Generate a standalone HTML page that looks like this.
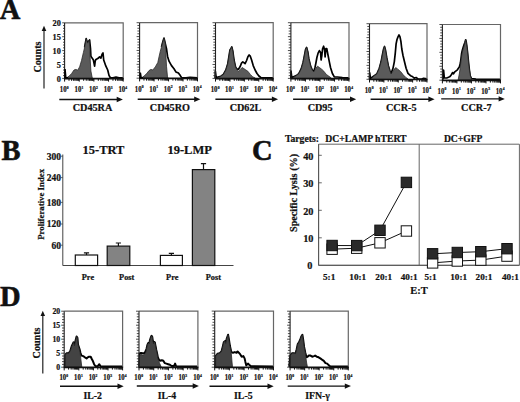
<!DOCTYPE html><html><head><meta charset="utf-8"><style>html,body{margin:0;padding:0;background:#fff;}svg{display:block;}</style></head><body>
<svg width="520" height="402" viewBox="0 0 520 402" font-family='"Liberation Serif", serif' font-weight="bold" fill="#111">
<style>text{stroke:#111;stroke-width:0.22px;}</style>
<rect width="520" height="402" fill="#fff"/>
<text x="-0.3" y="18.8" font-size="28.5" text-anchor="start" style="stroke-width:0.6px">A</text>
<text x="1.4" y="159.7" font-size="28.5" text-anchor="start" style="stroke-width:0.6px">B</text>
<text x="252.1" y="159.7" font-size="28.5" text-anchor="start" style="stroke-width:0.6px">C</text>
<text x="-0.1" y="306.3" font-size="28.5" text-anchor="start" style="stroke-width:0.6px">D</text>
<polyline points="84.6,47.5 84.6,47.5 86.2,38.7 87.5,43.1 89.6,40.0 90.5,48.7 90.9,56.2 92.1,58.1 93.4,60.0 94.0,63.1 94.6,66.2 95.2,61.2 95.9,59.4 97.8,58.5 99.6,56.9 100.9,58.1 102.1,54.3 103.0,53.0 103.7,60.0 105.9,66.2 107.7,70.0 109.0,75.4 110.2,77.5 113.0,77.8 116.0,77.2 119.0,77.8 123.0,77.8" fill="none" stroke="#000" stroke-width="1.7" stroke-linejoin="round"/>
<polygon points="66.5,78.4 66.5,78.0 69.0,76.2 71.5,73.7 74.0,70.0 75.9,69.4 77.7,70.2 79.6,66.9 81.5,60.6 83.4,52.5 84.6,47.5 86.2,38.7 87.5,43.1 89.2,40.5 89.9,50.0 90.3,61.0 90.9,71.0 92.1,77.2 92.5,78.0 92.5,78.4" fill="#5a5a5a" stroke="#2a2a2a" stroke-width="0.8" stroke-linejoin="round"/>
<path d="M64.6,22.8H123.2V78.4" fill="none" stroke="#666" stroke-width="1.2"/>
<path d="M64.6,22.8V78.4" fill="none" stroke="#222" stroke-width="1.1"/>
<path d="M64.1,78.60000000000001H123.7" fill="none" stroke="#111" stroke-width="1.7"/>
<path d="M62.2,78.40H64.6M63.0,75.62H64.6M63.0,72.84H64.6M63.0,70.06H64.6M63.0,67.28H64.6M62.2,64.50H64.6M63.0,61.72H64.6M63.0,58.94H64.6M63.0,56.16H64.6M63.0,53.38H64.6M62.2,50.60H64.6M63.0,47.82H64.6M63.0,45.04H64.6M63.0,42.26H64.6M63.0,39.48H64.6M62.2,36.70H64.6M63.0,33.92H64.6M63.0,31.14H64.6M63.0,28.36H64.6M63.0,25.58H64.6M62.2,22.80H64.6" stroke="#222" stroke-width="0.8"/>
<path d="M64.60,78.4V81.60000000000001M69.01,78.4V80.80000000000001M71.59,78.4V80.80000000000001M73.42,78.4V80.80000000000001M74.84,78.4V80.80000000000001M76.00,78.4V80.80000000000001M76.98,78.4V80.80000000000001M77.83,78.4V80.80000000000001M78.58,78.4V80.80000000000001M79.25,78.4V81.60000000000001M83.66,78.4V80.80000000000001M86.24,78.4V80.80000000000001M88.07,78.4V80.80000000000001M89.49,78.4V80.80000000000001M90.65,78.4V80.80000000000001M91.63,78.4V80.80000000000001M92.48,78.4V80.80000000000001M93.23,78.4V80.80000000000001M93.90,78.4V81.60000000000001M98.31,78.4V80.80000000000001M100.89,78.4V80.80000000000001M102.72,78.4V80.80000000000001M104.14,78.4V80.80000000000001M105.30,78.4V80.80000000000001M106.28,78.4V80.80000000000001M107.13,78.4V80.80000000000001M107.88,78.4V80.80000000000001M108.55,78.4V81.60000000000001M112.96,78.4V80.80000000000001M115.54,78.4V80.80000000000001M117.37,78.4V80.80000000000001M118.79,78.4V80.80000000000001M119.95,78.4V80.80000000000001M120.93,78.4V80.80000000000001M121.78,78.4V80.80000000000001M122.53,78.4V80.80000000000001M123.2,78.4V81.60000000000001" stroke="#111" stroke-width="1.0"/>
<text x="60.8" y="81.7" font-size="8.3" text-anchor="end">0</text>
<text x="60.8" y="67.8" font-size="8.3" text-anchor="end">5</text>
<text x="60.8" y="53.9" font-size="8.3" text-anchor="end">10</text>
<text x="60.8" y="40.0" font-size="8.3" text-anchor="end">15</text>
<text x="60.8" y="26.1" font-size="8.3" text-anchor="end">20</text>
<text transform="translate(59.8,91.7) scale(0.86,1)" font-size="7.9">10<tspan font-size="4.3" dy="-3.2" dx="0.2">0</tspan></text>
<text transform="translate(74.5,91.7) scale(0.86,1)" font-size="7.9">10<tspan font-size="4.3" dy="-3.2" dx="0.2">1</tspan></text>
<text transform="translate(89.1,91.7) scale(0.86,1)" font-size="7.9">10<tspan font-size="4.3" dy="-3.2" dx="0.2">2</tspan></text>
<text transform="translate(103.8,91.7) scale(0.86,1)" font-size="7.9">10<tspan font-size="4.3" dy="-3.2" dx="0.2">3</tspan></text>
<text transform="translate(118.4,91.7) scale(0.86,1)" font-size="7.9">10<tspan font-size="4.3" dy="-3.2" dx="0.2">4</tspan></text>
<path d="M59.3,99.5H117.7" stroke="#111" stroke-width="1.4"/>
<path d="M116.7,96.8L122.9,99.5L116.7,102.2Z" fill="#111"/>
<text x="92.5" y="110.5" font-size="10.2" text-anchor="middle">CD45RA</text>
<polyline points="161.5,46.9 161.5,46.9 162.8,41.9 164.0,38.1 165.3,43.7 166.5,48.7 167.5,56.2 169.0,61.2 171.5,65.6 174.0,68.7 175.9,71.9 178.4,73.1 180.3,75.6 181.5,77.5 186.0,77.8 190.0,77.3 197.3,77.8" fill="none" stroke="#000" stroke-width="1.7" stroke-linejoin="round"/>
<polygon points="141.5,78.2 141.5,78.0 144.6,75.6 147.1,73.1 149.0,70.6 150.9,69.4 152.8,70.0 155.3,66.9 157.8,62.5 159.0,56.9 160.3,51.2 161.5,46.9 162.8,41.9 164.0,38.1 165.3,43.7 165.9,55.0 166.5,66.2 167.5,76.9 168.0,78.0 168.0,78.2" fill="#5a5a5a" stroke="#2a2a2a" stroke-width="0.8" stroke-linejoin="round"/>
<path d="M139.6,22.7H197.5V78.2" fill="none" stroke="#666" stroke-width="1.2"/>
<path d="M139.6,22.7V78.2" fill="none" stroke="#222" stroke-width="1.1"/>
<path d="M139.1,78.4H198.0" fill="none" stroke="#111" stroke-width="1.7"/>
<path d="M136.6,78.20H139.6M137.4,75.42H139.6M137.4,72.65H139.6M137.4,69.88H139.6M137.4,67.10H139.6M136.6,64.33H139.6M137.4,61.55H139.6M137.4,58.78H139.6M137.4,56.00H139.6M137.4,53.23H139.6M136.6,50.45H139.6M137.4,47.68H139.6M137.4,44.90H139.6M137.4,42.12H139.6M137.4,39.35H139.6M136.6,36.58H139.6M137.4,33.80H139.6M137.4,31.03H139.6M137.4,28.25H139.6M137.4,25.48H139.6M136.6,22.70H139.6" stroke="#222" stroke-width="0.8"/>
<path d="M139.60,78.2V81.4M143.96,78.2V80.60000000000001M146.51,78.2V80.60000000000001M148.31,78.2V80.60000000000001M149.72,78.2V80.60000000000001M150.86,78.2V80.60000000000001M151.83,78.2V80.60000000000001M152.67,78.2V80.60000000000001M153.41,78.2V80.60000000000001M154.07,78.2V81.4M158.43,78.2V80.60000000000001M160.98,78.2V80.60000000000001M162.79,78.2V80.60000000000001M164.19,78.2V80.60000000000001M165.34,78.2V80.60000000000001M166.31,78.2V80.60000000000001M167.15,78.2V80.60000000000001M167.89,78.2V80.60000000000001M168.55,78.2V81.4M172.91,78.2V80.60000000000001M175.46,78.2V80.60000000000001M177.26,78.2V80.60000000000001M178.67,78.2V80.60000000000001M179.81,78.2V80.60000000000001M180.78,78.2V80.60000000000001M181.62,78.2V80.60000000000001M182.36,78.2V80.60000000000001M183.03,78.2V81.4M187.38,78.2V80.60000000000001M189.93,78.2V80.60000000000001M191.74,78.2V80.60000000000001M193.14,78.2V80.60000000000001M194.29,78.2V80.60000000000001M195.26,78.2V80.60000000000001M196.10,78.2V80.60000000000001M196.84,78.2V80.60000000000001M197.5,78.2V81.4" stroke="#111" stroke-width="1.0"/>
<text transform="translate(134.8,91.5) scale(0.86,1)" font-size="7.9">10<tspan font-size="4.3" dy="-3.2" dx="0.2">0</tspan></text>
<text transform="translate(149.3,91.5) scale(0.86,1)" font-size="7.9">10<tspan font-size="4.3" dy="-3.2" dx="0.2">1</tspan></text>
<text transform="translate(163.8,91.5) scale(0.86,1)" font-size="7.9">10<tspan font-size="4.3" dy="-3.2" dx="0.2">2</tspan></text>
<text transform="translate(178.2,91.5) scale(0.86,1)" font-size="7.9">10<tspan font-size="4.3" dy="-3.2" dx="0.2">3</tspan></text>
<text transform="translate(192.7,91.5) scale(0.86,1)" font-size="7.9">10<tspan font-size="4.3" dy="-3.2" dx="0.2">4</tspan></text>
<path d="M137.7,99.3H195.2" stroke="#111" stroke-width="1.4"/>
<path d="M194.2,96.6L200.39999999999998,99.3L194.2,102.0Z" fill="#111"/>
<text x="169.9" y="110.5" font-size="10.2" text-anchor="middle">CD45RO</text>
<polyline points="215.1,78.3 215.3,71.2 216.2,77.5 220.9,76.2 223.4,74.4 225.9,70.0 227.8,63.7 229.0,56.2 230.0,50.0 230.9,48.7 231.8,46.9 232.8,51.2 234.0,60.0 235.5,66.9 236.5,68.7 238.4,69.4 240.3,66.2 241.5,63.1 242.8,61.9 244.0,62.7 245.1,63.7 246.6,60.5 247.9,56.7 249.1,55.0 250.3,56.2 251.6,60.0 253.2,65.6 255.1,70.0 257.0,73.5 258.9,76.0 260.8,77.5 265.0,77.8 273.0,77.8" fill="none" stroke="#000" stroke-width="1.7" stroke-linejoin="round"/>
<polygon points="217.7,78.4 217.7,78.0 220.9,76.2 223.4,74.4 225.9,70.0 227.8,63.7 229.0,56.2 230.0,50.0 230.9,48.7 231.8,46.9 232.8,51.2 234.0,60.0 235.5,66.9 237.1,70.0 238.4,71.2 240.3,69.4 242.1,67.5 244.0,68.7 245.9,70.0 247.8,71.2 250.3,74.4 252.8,76.9 255.3,78.0 255.3,78.4" fill="#5a5a5a" stroke="#2a2a2a" stroke-width="0.8" stroke-linejoin="round"/>
<path d="M215.5,22.7H273.2V78.4" fill="none" stroke="#666" stroke-width="1.2"/>
<path d="M215.5,22.7V78.4" fill="none" stroke="#222" stroke-width="1.1"/>
<path d="M215.0,78.60000000000001H273.7" fill="none" stroke="#111" stroke-width="1.7"/>
<path d="M212.5,78.40H215.5M213.3,75.62H215.5M213.3,72.83H215.5M213.3,70.05H215.5M213.3,67.26H215.5M212.5,64.48H215.5M213.3,61.69H215.5M213.3,58.91H215.5M213.3,56.12H215.5M213.3,53.34H215.5M212.5,50.55H215.5M213.3,47.77H215.5M213.3,44.98H215.5M213.3,42.20H215.5M213.3,39.41H215.5M212.5,36.63H215.5M213.3,33.84H215.5M213.3,31.05H215.5M213.3,28.27H215.5M213.3,25.49H215.5M212.5,22.70H215.5" stroke="#222" stroke-width="0.8"/>
<path d="M215.50,78.4V81.60000000000001M219.84,78.4V80.80000000000001M222.38,78.4V80.80000000000001M224.18,78.4V80.80000000000001M225.58,78.4V80.80000000000001M226.72,78.4V80.80000000000001M227.69,78.4V80.80000000000001M228.53,78.4V80.80000000000001M229.26,78.4V80.80000000000001M229.93,78.4V81.60000000000001M234.27,78.4V80.80000000000001M236.81,78.4V80.80000000000001M238.61,78.4V80.80000000000001M240.01,78.4V80.80000000000001M241.15,78.4V80.80000000000001M242.12,78.4V80.80000000000001M242.95,78.4V80.80000000000001M243.69,78.4V80.80000000000001M244.35,78.4V81.60000000000001M248.69,78.4V80.80000000000001M251.23,78.4V80.80000000000001M253.03,78.4V80.80000000000001M254.43,78.4V80.80000000000001M255.57,78.4V80.80000000000001M256.54,78.4V80.80000000000001M257.38,78.4V80.80000000000001M258.11,78.4V80.80000000000001M258.77,78.4V81.60000000000001M263.12,78.4V80.80000000000001M265.66,78.4V80.80000000000001M267.46,78.4V80.80000000000001M268.86,78.4V80.80000000000001M270.00,78.4V80.80000000000001M270.97,78.4V80.80000000000001M271.80,78.4V80.80000000000001M272.54,78.4V80.80000000000001M273.2,78.4V81.60000000000001" stroke="#111" stroke-width="1.0"/>
<text transform="translate(210.7,91.7) scale(0.86,1)" font-size="7.9">10<tspan font-size="4.3" dy="-3.2" dx="0.2">0</tspan></text>
<text transform="translate(225.1,91.7) scale(0.86,1)" font-size="7.9">10<tspan font-size="4.3" dy="-3.2" dx="0.2">1</tspan></text>
<text transform="translate(239.5,91.7) scale(0.86,1)" font-size="7.9">10<tspan font-size="4.3" dy="-3.2" dx="0.2">2</tspan></text>
<text transform="translate(254.0,91.7) scale(0.86,1)" font-size="7.9">10<tspan font-size="4.3" dy="-3.2" dx="0.2">3</tspan></text>
<text transform="translate(268.4,91.7) scale(0.86,1)" font-size="7.9">10<tspan font-size="4.3" dy="-3.2" dx="0.2">4</tspan></text>
<path d="M215.4,99.3H272.9" stroke="#111" stroke-width="1.4"/>
<path d="M271.9,96.6L278.09999999999997,99.3L271.9,102.0Z" fill="#111"/>
<text x="245.5" y="110.5" font-size="10.2" text-anchor="middle">CD62L</text>
<polyline points="290.8,78.3 291.0,71.2 291.8,77.5 296.3,75.6 298.8,73.7 301.3,68.7 303.1,62.5 304.8,53.7 305.6,49.4 306.6,47.5 307.8,51.9 308.8,58.7 310.6,66.2 312.5,70.6 313.8,71.2 315.0,67.5 316.0,62.5 316.9,57.5 318.1,53.1 319.4,50.6 320.6,52.5 321.1,60.0 321.9,55.0 322.6,48.7 323.6,46.2 324.6,50.0 325.1,56.9 325.9,48.7 326.8,48.7 328.0,55.0 329.2,61.2 330.5,67.5 332.4,73.5 334.3,76.9 337.4,77.0 342.4,77.5 348.8,77.8" fill="none" stroke="#000" stroke-width="1.7" stroke-linejoin="round"/>
<polygon points="292.5,78.4 292.5,78.0 296.3,75.6 298.8,73.7 301.3,68.7 303.1,62.5 304.8,53.7 305.6,49.4 306.6,47.5 307.8,51.9 308.8,58.7 310.6,66.2 312.5,70.6 313.8,71.9 315.6,68.7 317.5,66.2 319.4,67.5 321.9,69.4 323.8,71.2 326.3,74.4 328.8,76.2 331.3,78.0 331.3,78.4" fill="#5a5a5a" stroke="#2a2a2a" stroke-width="0.8" stroke-linejoin="round"/>
<path d="M290.9,22.7H349.0V78.4" fill="none" stroke="#666" stroke-width="1.2"/>
<path d="M290.9,22.7V78.4" fill="none" stroke="#222" stroke-width="1.1"/>
<path d="M290.4,78.60000000000001H349.5" fill="none" stroke="#111" stroke-width="1.7"/>
<path d="M287.9,78.40H290.9M288.7,75.62H290.9M288.7,72.83H290.9M288.7,70.05H290.9M288.7,67.26H290.9M287.9,64.48H290.9M288.7,61.69H290.9M288.7,58.91H290.9M288.7,56.12H290.9M288.7,53.34H290.9M287.9,50.55H290.9M288.7,47.77H290.9M288.7,44.98H290.9M288.7,42.20H290.9M288.7,39.41H290.9M287.9,36.63H290.9M288.7,33.84H290.9M288.7,31.05H290.9M288.7,28.27H290.9M288.7,25.49H290.9M287.9,22.70H290.9" stroke="#222" stroke-width="0.8"/>
<path d="M290.90,78.4V81.60000000000001M295.27,78.4V80.80000000000001M297.83,78.4V80.80000000000001M299.64,78.4V80.80000000000001M301.05,78.4V80.80000000000001M302.20,78.4V80.80000000000001M303.18,78.4V80.80000000000001M304.02,78.4V80.80000000000001M304.76,78.4V80.80000000000001M305.42,78.4V81.60000000000001M309.80,78.4V80.80000000000001M312.36,78.4V80.80000000000001M314.17,78.4V80.80000000000001M315.58,78.4V80.80000000000001M316.73,78.4V80.80000000000001M317.70,78.4V80.80000000000001M318.54,78.4V80.80000000000001M319.29,78.4V80.80000000000001M319.95,78.4V81.60000000000001M324.32,78.4V80.80000000000001M326.88,78.4V80.80000000000001M328.69,78.4V80.80000000000001M330.10,78.4V80.80000000000001M331.25,78.4V80.80000000000001M332.23,78.4V80.80000000000001M333.07,78.4V80.80000000000001M333.81,78.4V80.80000000000001M334.48,78.4V81.60000000000001M338.85,78.4V80.80000000000001M341.41,78.4V80.80000000000001M343.22,78.4V80.80000000000001M344.63,78.4V80.80000000000001M345.78,78.4V80.80000000000001M346.75,78.4V80.80000000000001M347.59,78.4V80.80000000000001M348.34,78.4V80.80000000000001M349.0,78.4V81.60000000000001" stroke="#111" stroke-width="1.0"/>
<text transform="translate(286.1,91.7) scale(0.86,1)" font-size="7.9">10<tspan font-size="4.3" dy="-3.2" dx="0.2">0</tspan></text>
<text transform="translate(300.6,91.7) scale(0.86,1)" font-size="7.9">10<tspan font-size="4.3" dy="-3.2" dx="0.2">1</tspan></text>
<text transform="translate(315.1,91.7) scale(0.86,1)" font-size="7.9">10<tspan font-size="4.3" dy="-3.2" dx="0.2">2</tspan></text>
<text transform="translate(329.7,91.7) scale(0.86,1)" font-size="7.9">10<tspan font-size="4.3" dy="-3.2" dx="0.2">3</tspan></text>
<text transform="translate(344.2,91.7) scale(0.86,1)" font-size="7.9">10<tspan font-size="4.3" dy="-3.2" dx="0.2">4</tspan></text>
<path d="M293.1,99.3H351.0" stroke="#111" stroke-width="1.4"/>
<path d="M350.0,96.6L356.2,99.3L350.0,102.0Z" fill="#111"/>
<text x="320.1" y="110.5" font-size="10.2" text-anchor="middle">CD95</text>
<polyline points="369.5,79.3 369.7,72.8 370.5,78.5 374.3,75.7 376.8,74.0 379.3,68.3 381.1,61.8 382.4,54.9 383.6,49.0 384.5,46.5 385.5,50.3 386.8,58.0 388.3,65.7 389.9,70.8 391.1,73.4 393.0,68.3 394.3,61.8 395.3,52.9 396.1,43.9 397.0,39.5 398.0,36.9 399.0,35.0 400.0,36.9 400.9,41.3 401.8,49.0 403.0,55.5 404.5,61.8 406.1,68.3 408.0,73.4 410.5,75.7 412.4,76.5 414.2,78.2 416.1,77.5 418.0,78.9 421.8,79.0 423.6,78.3 426.8,78.9" fill="none" stroke="#000" stroke-width="1.7" stroke-linejoin="round"/>
<polygon points="371.1,79.3 371.1,79.0 374.3,75.7 376.8,74.0 379.3,68.3 381.1,61.8 382.4,54.9 383.6,49.0 384.5,46.5 385.5,50.3 386.8,58.0 388.3,65.7 389.9,70.8 391.1,74.0 392.8,71.4 394.3,68.9 396.1,67.6 398.0,69.5 400.5,71.4 403.0,74.6 405.5,77.2 408.0,79.0 408.0,79.3" fill="#5a5a5a" stroke="#2a2a2a" stroke-width="0.8" stroke-linejoin="round"/>
<path d="M369.5,23.7H427.0V79.3" fill="none" stroke="#666" stroke-width="1.2"/>
<path d="M369.5,23.7V79.3" fill="none" stroke="#222" stroke-width="1.1"/>
<path d="M369.0,79.5H427.5" fill="none" stroke="#111" stroke-width="1.7"/>
<path d="M366.5,79.30H369.5M367.3,76.52H369.5M367.3,73.74H369.5M367.3,70.96H369.5M367.3,68.18H369.5M366.5,65.40H369.5M367.3,62.62H369.5M367.3,59.84H369.5M367.3,57.06H369.5M367.3,54.28H369.5M366.5,51.50H369.5M367.3,48.72H369.5M367.3,45.94H369.5M367.3,43.16H369.5M367.3,40.38H369.5M366.5,37.60H369.5M367.3,34.82H369.5M367.3,32.04H369.5M367.3,29.26H369.5M367.3,26.48H369.5M366.5,23.70H369.5" stroke="#222" stroke-width="0.8"/>
<path d="M369.50,79.3V82.5M373.83,79.3V81.7M376.36,79.3V81.7M378.15,79.3V81.7M379.55,79.3V81.7M380.69,79.3V81.7M381.65,79.3V81.7M382.48,79.3V81.7M383.22,79.3V81.7M383.88,79.3V82.5M388.20,79.3V81.7M390.73,79.3V81.7M392.53,79.3V81.7M393.92,79.3V81.7M395.06,79.3V81.7M396.02,79.3V81.7M396.86,79.3V81.7M397.59,79.3V81.7M398.25,79.3V82.5M402.58,79.3V81.7M405.11,79.3V81.7M406.90,79.3V81.7M408.30,79.3V81.7M409.44,79.3V81.7M410.40,79.3V81.7M411.23,79.3V81.7M411.97,79.3V81.7M412.62,79.3V82.5M416.95,79.3V81.7M419.48,79.3V81.7M421.28,79.3V81.7M422.67,79.3V81.7M423.81,79.3V81.7M424.77,79.3V81.7M425.61,79.3V81.7M426.34,79.3V81.7M427.0,79.3V82.5" stroke="#111" stroke-width="1.0"/>
<text transform="translate(364.7,92.6) scale(0.86,1)" font-size="7.9">10<tspan font-size="4.3" dy="-3.2" dx="0.2">0</tspan></text>
<text transform="translate(379.1,92.6) scale(0.86,1)" font-size="7.9">10<tspan font-size="4.3" dy="-3.2" dx="0.2">1</tspan></text>
<text transform="translate(393.4,92.6) scale(0.86,1)" font-size="7.9">10<tspan font-size="4.3" dy="-3.2" dx="0.2">2</tspan></text>
<text transform="translate(407.8,92.6) scale(0.86,1)" font-size="7.9">10<tspan font-size="4.3" dy="-3.2" dx="0.2">3</tspan></text>
<text transform="translate(422.2,92.6) scale(0.86,1)" font-size="7.9">10<tspan font-size="4.3" dy="-3.2" dx="0.2">4</tspan></text>
<path d="M370.6,99.3H429.4" stroke="#111" stroke-width="1.4"/>
<path d="M428.4,96.6L434.59999999999997,99.3L428.4,102.0Z" fill="#111"/>
<text x="401.3" y="110.5" font-size="10.2" text-anchor="middle">CCR-5</text>
<polyline points="442.9,79.8 443.0,70.1 443.6,70.3 444.3,77.8 446.7,78.0 448.5,77.3 450.0,76.6 451.5,74.5 452.5,72.6 453.5,73.8 454.8,71.8 457.4,69.8 459.3,67.1 460.4,63.0 461.0,58.5 461.6,53.5 462.4,50.0 463.3,47.0 464.1,44.5 465.0,42.3 465.7,39.8 466.3,42.5 466.8,46.0 467.4,51.0 468.0,57.0 468.7,64.0 469.4,70.0 470.2,76.0 471.5,78.6 476.0,79.1 485.0,79.3 500.2,79.3" fill="none" stroke="#000" stroke-width="1.7" stroke-linejoin="round"/>
<polygon points="458.1,80.2 458.1,80.0 459.3,74.0 460.2,68.0 461.0,61.0 461.8,55.0 462.6,51.0 463.5,48.0 464.3,45.5 465.0,42.8 465.7,39.8 466.3,42.5 466.8,46.0 467.4,51.0 468.0,57.0 468.7,64.0 469.4,70.0 470.3,75.5 471.8,80.0 471.8,80.2" fill="#5a5a5a" stroke="#2a2a2a" stroke-width="0.8" stroke-linejoin="round"/>
<path d="M442.4,24.5H500.5V80.2" fill="none" stroke="#666" stroke-width="1.2"/>
<path d="M442.4,24.5V80.2" fill="none" stroke="#222" stroke-width="1.1"/>
<path d="M441.9,80.4H501.0" fill="none" stroke="#111" stroke-width="1.7"/>
<path d="M439.4,80.20H442.4M440.2,77.42H442.4M440.2,74.63H442.4M440.2,71.84H442.4M440.2,69.06H442.4M439.4,66.28H442.4M440.2,63.49H442.4M440.2,60.70H442.4M440.2,57.92H442.4M440.2,55.14H442.4M439.4,52.35H442.4M440.2,49.56H442.4M440.2,46.78H442.4M440.2,44.00H442.4M440.2,41.21H442.4M439.4,38.43H442.4M440.2,35.64H442.4M440.2,32.85H442.4M440.2,30.07H442.4M440.2,27.29H442.4M439.4,24.50H442.4" stroke="#222" stroke-width="0.8"/>
<path d="M442.40,80.2V83.4M446.77,80.2V82.60000000000001M449.33,80.2V82.60000000000001M451.14,80.2V82.60000000000001M452.55,80.2V82.60000000000001M453.70,80.2V82.60000000000001M454.68,80.2V82.60000000000001M455.52,80.2V82.60000000000001M456.26,80.2V82.60000000000001M456.92,80.2V83.4M461.30,80.2V82.60000000000001M463.86,80.2V82.60000000000001M465.67,80.2V82.60000000000001M467.08,80.2V82.60000000000001M468.23,80.2V82.60000000000001M469.20,80.2V82.60000000000001M470.04,80.2V82.60000000000001M470.79,80.2V82.60000000000001M471.45,80.2V83.4M475.82,80.2V82.60000000000001M478.38,80.2V82.60000000000001M480.19,80.2V82.60000000000001M481.60,80.2V82.60000000000001M482.75,80.2V82.60000000000001M483.73,80.2V82.60000000000001M484.57,80.2V82.60000000000001M485.31,80.2V82.60000000000001M485.98,80.2V83.4M490.35,80.2V82.60000000000001M492.91,80.2V82.60000000000001M494.72,80.2V82.60000000000001M496.13,80.2V82.60000000000001M497.28,80.2V82.60000000000001M498.25,80.2V82.60000000000001M499.09,80.2V82.60000000000001M499.84,80.2V82.60000000000001M500.5,80.2V83.4" stroke="#111" stroke-width="1.0"/>
<text transform="translate(437.6,93.5) scale(0.86,1)" font-size="7.9">10<tspan font-size="4.3" dy="-3.2" dx="0.2">0</tspan></text>
<text transform="translate(452.1,93.5) scale(0.86,1)" font-size="7.9">10<tspan font-size="4.3" dy="-3.2" dx="0.2">1</tspan></text>
<text transform="translate(466.6,93.5) scale(0.86,1)" font-size="7.9">10<tspan font-size="4.3" dy="-3.2" dx="0.2">2</tspan></text>
<text transform="translate(481.2,93.5) scale(0.86,1)" font-size="7.9">10<tspan font-size="4.3" dy="-3.2" dx="0.2">3</tspan></text>
<text transform="translate(495.7,93.5) scale(0.86,1)" font-size="7.9">10<tspan font-size="4.3" dy="-3.2" dx="0.2">4</tspan></text>
<path d="M441.2,98.9H499.6" stroke="#111" stroke-width="1.4"/>
<path d="M498.6,96.2L504.8,98.9L498.6,101.60000000000001Z" fill="#111"/>
<text x="476.4" y="110.5" font-size="10.2" text-anchor="middle">CCR-7</text>
<polyline points="64.9,78.3 65.1,69 65.9,77.6 68,77.8" fill="none" stroke="#000" stroke-width="1.4"/>
<polyline points="140.1,78.2 140.4,72.5 141.2,77.6 143,77.8" fill="none" stroke="#000" stroke-width="1.4"/>
<path d="M44,30V88.5" stroke="#222" stroke-width="1.2"/><path d="M41.7,31L44,25.7L46.3,31Z" fill="#111"/>
<text transform="translate(40.8,72.6) rotate(-90)" font-size="10.2">Counts</text>
<polyline points="64.8,366.8 65.3,355.0 66.5,353.3 68.8,353.3 70.5,350.4 71.7,346.3 72.8,344.0 73.6,342.3 74.5,345.8 75.7,340.0 76.6,336.5 77.4,337.7 78.0,344.6 79.5,349.0 80.5,353.0 81.5,355.6 83.2,356.1 84.9,357.3 86.6,358.4 87.8,357.3 89.0,356.7 90.7,356.7 91.8,359.0 93.0,361.3 94.1,364.2 95.3,366.0 97.6,366.3 99.3,364.2 100.5,366.3 122.5,366.5" fill="none" stroke="#000" stroke-width="2.0" stroke-linejoin="round"/>
<polygon points="65.3,367.2 65.3,355.0 66.5,353.3 68.8,353.3 70.5,350.4 71.7,346.3 72.8,344.0 73.6,342.3 74.5,345.8 75.7,340.0 76.6,336.5 77.4,337.7 78.0,344.6 79.1,348.1 80.1,352.7 80.8,358.4 81.3,363.0 81.8,366.8 81.8,367.2" fill="#434343" stroke="#2a2a2a" stroke-width="0.8" stroke-linejoin="round"/>
<path d="M64.2,311.2H122.6V367.2" fill="none" stroke="#666" stroke-width="1.2"/>
<path d="M64.2,311.2V367.2" fill="none" stroke="#222" stroke-width="1.1"/>
<path d="M63.7,367.4H123.1" fill="none" stroke="#111" stroke-width="1.7"/>
<path d="M61.2,367.20H64.2M62.0,364.40H64.2M62.0,361.60H64.2M62.0,358.80H64.2M62.0,356.00H64.2M61.2,353.20H64.2M62.0,350.40H64.2M62.0,347.60H64.2M62.0,344.80H64.2M62.0,342.00H64.2M61.2,339.20H64.2M62.0,336.40H64.2M62.0,333.60H64.2M62.0,330.80H64.2M62.0,328.00H64.2M61.2,325.20H64.2M62.0,322.40H64.2M62.0,319.60H64.2M62.0,316.80H64.2M62.0,314.00H64.2M61.2,311.20H64.2" stroke="#222" stroke-width="0.8"/>
<path d="M64.20,367.2V370.4M68.60,367.2V369.59999999999997M71.17,367.2V369.59999999999997M72.99,367.2V369.59999999999997M74.40,367.2V369.59999999999997M75.56,367.2V369.59999999999997M76.54,367.2V369.59999999999997M77.39,367.2V369.59999999999997M78.13,367.2V369.59999999999997M78.80,367.2V370.4M83.20,367.2V369.59999999999997M85.77,367.2V369.59999999999997M87.59,367.2V369.59999999999997M89.00,367.2V369.59999999999997M90.16,367.2V369.59999999999997M91.14,367.2V369.59999999999997M91.99,367.2V369.59999999999997M92.73,367.2V369.59999999999997M93.40,367.2V370.4M97.80,367.2V369.59999999999997M100.37,367.2V369.59999999999997M102.19,367.2V369.59999999999997M103.60,367.2V369.59999999999997M104.76,367.2V369.59999999999997M105.74,367.2V369.59999999999997M106.59,367.2V369.59999999999997M107.33,367.2V369.59999999999997M108.00,367.2V370.4M112.40,367.2V369.59999999999997M114.97,367.2V369.59999999999997M116.79,367.2V369.59999999999997M118.20,367.2V369.59999999999997M119.36,367.2V369.59999999999997M120.34,367.2V369.59999999999997M121.19,367.2V369.59999999999997M121.93,367.2V369.59999999999997M122.6,367.2V370.4" stroke="#111" stroke-width="1.0"/>
<text x="60.2" y="370.1" font-size="7.8" text-anchor="end">0</text>
<text x="60.2" y="356.1" font-size="7.8" text-anchor="end">5</text>
<text x="60.2" y="342.1" font-size="7.8" text-anchor="end">10</text>
<text x="60.2" y="328.1" font-size="7.8" text-anchor="end">15</text>
<text x="60.2" y="314.1" font-size="7.8" text-anchor="end">20</text>
<text transform="translate(59.5,379.8) scale(0.86,1)" font-size="7.8">10<tspan font-size="4.3" dy="-3.1" dx="0.2">0</tspan></text>
<text transform="translate(74.1,379.8) scale(0.86,1)" font-size="7.8">10<tspan font-size="4.3" dy="-3.1" dx="0.2">1</tspan></text>
<text transform="translate(88.7,379.8) scale(0.86,1)" font-size="7.8">10<tspan font-size="4.3" dy="-3.1" dx="0.2">2</tspan></text>
<text transform="translate(103.3,379.8) scale(0.86,1)" font-size="7.8">10<tspan font-size="4.3" dy="-3.1" dx="0.2">3</tspan></text>
<text transform="translate(117.9,379.8) scale(0.86,1)" font-size="7.8">10<tspan font-size="4.3" dy="-3.1" dx="0.2">4</tspan></text>
<path d="M60.0,386.3H118.5" stroke="#111" stroke-width="1.4"/>
<path d="M117.5,383.6L123.7,386.3L117.5,389.0Z" fill="#111"/>
<text x="92.7" y="399.3" font-size="9.8" text-anchor="middle">IL-2</text>
<polyline points="139.2,366.8 139.6,353.5 141.0,353.0 142.5,353.3 144.5,353.2 145.7,351.0 146.6,348.5 147.4,345.0 148.3,343.0 149.2,344.0 150.0,340.0 150.8,337.5 151.6,335.8 152.3,337.0 152.8,341.0 153.5,344.0 154.2,342.0 154.8,342.3 155.5,346.0 156.3,350.0 157.2,354.0 157.8,357.3 158.9,359.6 160.1,360.8 161.8,360.2 163.3,360.8 164.7,363.1 166.4,363.6 168.1,364.2 169.9,364.8 171.6,366.0 174.0,366.0 175.1,363.6 176.2,366.5 197.0,366.5" fill="none" stroke="#000" stroke-width="2.0" stroke-linejoin="round"/>
<polygon points="139.5,367.2 139.5,355.6 141.0,354.5 142.8,355.0 144.5,354.5 145.7,352.5 146.6,349.0 147.4,345.0 148.3,343.0 149.2,344.0 150.0,340.0 150.8,337.5 151.6,335.8 152.3,337.0 152.8,341.0 153.5,344.0 154.2,342.0 154.8,342.3 155.5,346.0 156.3,350.0 157.2,354.0 157.8,358.4 159.5,363.1 161.2,366.8 161.2,367.2" fill="#434343" stroke="#2a2a2a" stroke-width="0.8" stroke-linejoin="round"/>
<path d="M139.0,311.2H197.9V367.2" fill="none" stroke="#666" stroke-width="1.2"/>
<path d="M139.0,311.2V367.2" fill="none" stroke="#222" stroke-width="1.1"/>
<path d="M138.5,367.4H198.4" fill="none" stroke="#111" stroke-width="1.7"/>
<path d="M136.0,367.20H139.0M136.8,364.40H139.0M136.8,361.60H139.0M136.8,358.80H139.0M136.8,356.00H139.0M136.0,353.20H139.0M136.8,350.40H139.0M136.8,347.60H139.0M136.8,344.80H139.0M136.8,342.00H139.0M136.0,339.20H139.0M136.8,336.40H139.0M136.8,333.60H139.0M136.8,330.80H139.0M136.8,328.00H139.0M136.0,325.20H139.0M136.8,322.40H139.0M136.8,319.60H139.0M136.8,316.80H139.0M136.8,314.00H139.0M136.0,311.20H139.0" stroke="#222" stroke-width="0.8"/>
<path d="M139.00,367.2V370.4M143.43,367.2V369.59999999999997M146.03,367.2V369.59999999999997M147.87,367.2V369.59999999999997M149.29,367.2V369.59999999999997M150.46,367.2V369.59999999999997M151.44,367.2V369.59999999999997M152.30,367.2V369.59999999999997M153.05,367.2V369.59999999999997M153.72,367.2V370.4M158.16,367.2V369.59999999999997M160.75,367.2V369.59999999999997M162.59,367.2V369.59999999999997M164.02,367.2V369.59999999999997M165.18,367.2V369.59999999999997M166.17,367.2V369.59999999999997M167.02,367.2V369.59999999999997M167.78,367.2V369.59999999999997M168.45,367.2V370.4M172.88,367.2V369.59999999999997M175.48,367.2V369.59999999999997M177.32,367.2V369.59999999999997M178.74,367.2V369.59999999999997M179.91,367.2V369.59999999999997M180.89,367.2V369.59999999999997M181.75,367.2V369.59999999999997M182.50,367.2V369.59999999999997M183.18,367.2V370.4M187.61,367.2V369.59999999999997M190.20,367.2V369.59999999999997M192.04,367.2V369.59999999999997M193.47,367.2V369.59999999999997M194.63,367.2V369.59999999999997M195.62,367.2V369.59999999999997M196.47,367.2V369.59999999999997M197.23,367.2V369.59999999999997M197.9,367.2V370.4" stroke="#111" stroke-width="1.0"/>
<text transform="translate(134.3,379.8) scale(0.86,1)" font-size="7.8">10<tspan font-size="4.3" dy="-3.1" dx="0.2">0</tspan></text>
<text transform="translate(149.0,379.8) scale(0.86,1)" font-size="7.8">10<tspan font-size="4.3" dy="-3.1" dx="0.2">1</tspan></text>
<text transform="translate(163.8,379.8) scale(0.86,1)" font-size="7.8">10<tspan font-size="4.3" dy="-3.1" dx="0.2">2</tspan></text>
<text transform="translate(178.5,379.8) scale(0.86,1)" font-size="7.8">10<tspan font-size="4.3" dy="-3.1" dx="0.2">3</tspan></text>
<text transform="translate(193.2,379.8) scale(0.86,1)" font-size="7.8">10<tspan font-size="4.3" dy="-3.1" dx="0.2">4</tspan></text>
<path d="M136.8,386.0H193.7" stroke="#111" stroke-width="1.4"/>
<path d="M192.7,383.3L198.89999999999998,386.0L192.7,388.7Z" fill="#111"/>
<text x="167.0" y="399.3" font-size="9.8" text-anchor="middle">IL-4</text>
<polyline points="215.3,366.8 215.7,356.1 217.5,353.8 219.8,353.3 221.5,351.5 222.7,346.9 223.8,342.3 225.0,341.1 225.8,343.5 226.7,338.8 228.1,334.8 229.0,340.0 229.9,345.8 231.3,352.1 233.0,352.7 234.8,352.1 236.5,352.7 237.6,351.5 238.8,352.7 240.3,354.4 241.7,356.7 243.4,356.1 244.6,358.4 245.4,361.9 246.3,365.4 248.0,363.6 249.2,364.8 250.9,366.3 273.0,366.5" fill="none" stroke="#000" stroke-width="2.0" stroke-linejoin="round"/>
<polygon points="215.7,367.2 215.7,356.1 217.5,353.8 219.8,353.3 221.5,351.5 222.7,346.9 223.8,342.3 225.0,341.1 225.8,343.5 226.7,338.8 228.1,334.8 229.0,340.0 229.9,345.8 231.1,351.5 231.7,358.0 232.1,363.0 232.5,366.8 232.5,367.2" fill="#434343" stroke="#2a2a2a" stroke-width="0.8" stroke-linejoin="round"/>
<path d="M214.7,311.1H273.5V367.2" fill="none" stroke="#666" stroke-width="1.2"/>
<path d="M214.7,311.1V367.2" fill="none" stroke="#222" stroke-width="1.1"/>
<path d="M214.2,367.4H274.0" fill="none" stroke="#111" stroke-width="1.7"/>
<path d="M211.7,367.20H214.7M212.5,364.39H214.7M212.5,361.59H214.7M212.5,358.78H214.7M212.5,355.98H214.7M211.7,353.18H214.7M212.5,350.37H214.7M212.5,347.56H214.7M212.5,344.76H214.7M212.5,341.95H214.7M211.7,339.15H214.7M212.5,336.35H214.7M212.5,333.54H214.7M212.5,330.74H214.7M212.5,327.93H214.7M211.7,325.12H214.7M212.5,322.32H214.7M212.5,319.52H214.7M212.5,316.71H214.7M212.5,313.91H214.7M211.7,311.10H214.7" stroke="#222" stroke-width="0.8"/>
<path d="M214.70,367.2V370.4M219.13,367.2V369.59999999999997M221.71,367.2V369.59999999999997M223.55,367.2V369.59999999999997M224.97,367.2V369.59999999999997M226.14,367.2V369.59999999999997M227.12,367.2V369.59999999999997M227.98,367.2V369.59999999999997M228.73,367.2V369.59999999999997M229.40,367.2V370.4M233.83,367.2V369.59999999999997M236.41,367.2V369.59999999999997M238.25,367.2V369.59999999999997M239.67,367.2V369.59999999999997M240.84,367.2V369.59999999999997M241.82,367.2V369.59999999999997M242.68,367.2V369.59999999999997M243.43,367.2V369.59999999999997M244.10,367.2V370.4M248.53,367.2V369.59999999999997M251.11,367.2V369.59999999999997M252.95,367.2V369.59999999999997M254.37,367.2V369.59999999999997M255.54,367.2V369.59999999999997M256.52,367.2V369.59999999999997M257.38,367.2V369.59999999999997M258.13,367.2V369.59999999999997M258.80,367.2V370.4M263.23,367.2V369.59999999999997M265.81,367.2V369.59999999999997M267.65,367.2V369.59999999999997M269.07,367.2V369.59999999999997M270.24,367.2V369.59999999999997M271.22,367.2V369.59999999999997M272.08,367.2V369.59999999999997M272.83,367.2V369.59999999999997M273.5,367.2V370.4" stroke="#111" stroke-width="1.0"/>
<text transform="translate(210.0,379.8) scale(0.86,1)" font-size="7.8">10<tspan font-size="4.3" dy="-3.1" dx="0.2">0</tspan></text>
<text transform="translate(224.7,379.8) scale(0.86,1)" font-size="7.8">10<tspan font-size="4.3" dy="-3.1" dx="0.2">1</tspan></text>
<text transform="translate(239.4,379.8) scale(0.86,1)" font-size="7.8">10<tspan font-size="4.3" dy="-3.1" dx="0.2">2</tspan></text>
<text transform="translate(254.1,379.8) scale(0.86,1)" font-size="7.8">10<tspan font-size="4.3" dy="-3.1" dx="0.2">3</tspan></text>
<text transform="translate(268.8,379.8) scale(0.86,1)" font-size="7.8">10<tspan font-size="4.3" dy="-3.1" dx="0.2">4</tspan></text>
<path d="M209.5,386.3H268.5" stroke="#111" stroke-width="1.4"/>
<path d="M267.5,383.6L273.7,386.3L267.5,389.0Z" fill="#111"/>
<text x="243.3" y="399.3" font-size="9.8" text-anchor="middle">IL-5</text>
<polyline points="289.2,366.8 290.3,355.6 292.0,353.3 293.8,353.3 295.5,353.8 296.7,349.2 297.8,344.0 299.0,342.3 300.1,340.0 301.3,336.5 302.4,334.8 303.2,340.0 304.1,346.9 305.3,352.7 306.5,357.3 307.6,356.7 308.8,355.6 310.5,355.6 312.2,356.7 314.0,356.1 315.1,355.6 316.8,356.7 318.6,357.3 320.3,358.4 322.0,359.6 323.8,360.8 325.5,363.1 327.2,363.6 328.9,365.4 330.1,366.3 348.0,366.5" fill="none" stroke="#000" stroke-width="2.0" stroke-linejoin="round"/>
<polygon points="290.3,367.2 290.3,355.6 292.0,353.3 293.8,353.3 295.5,353.8 296.7,349.2 297.8,344.0 299.0,342.3 300.1,340.0 301.3,336.5 302.4,334.8 303.2,340.0 304.1,346.9 305.3,352.7 306.0,358.4 306.7,363.1 307.4,366.8 307.4,367.2" fill="#434343" stroke="#2a2a2a" stroke-width="0.8" stroke-linejoin="round"/>
<path d="M290.1,311.2H348.3V367.2" fill="none" stroke="#666" stroke-width="1.2"/>
<path d="M290.1,311.2V367.2" fill="none" stroke="#222" stroke-width="1.1"/>
<path d="M289.6,367.4H348.8" fill="none" stroke="#111" stroke-width="1.7"/>
<path d="M287.1,367.20H290.1M287.9,364.40H290.1M287.9,361.60H290.1M287.9,358.80H290.1M287.9,356.00H290.1M287.1,353.20H290.1M287.9,350.40H290.1M287.9,347.60H290.1M287.9,344.80H290.1M287.9,342.00H290.1M287.1,339.20H290.1M287.9,336.40H290.1M287.9,333.60H290.1M287.9,330.80H290.1M287.9,328.00H290.1M287.1,325.20H290.1M287.9,322.40H290.1M287.9,319.60H290.1M287.9,316.80H290.1M287.9,314.00H290.1M287.1,311.20H290.1" stroke="#222" stroke-width="0.8"/>
<path d="M290.10,367.2V370.4M294.48,367.2V369.59999999999997M297.04,367.2V369.59999999999997M298.86,367.2V369.59999999999997M300.27,367.2V369.59999999999997M301.42,367.2V369.59999999999997M302.40,367.2V369.59999999999997M303.24,367.2V369.59999999999997M303.98,367.2V369.59999999999997M304.65,367.2V370.4M309.03,367.2V369.59999999999997M311.59,367.2V369.59999999999997M313.41,367.2V369.59999999999997M314.82,367.2V369.59999999999997M315.97,367.2V369.59999999999997M316.95,367.2V369.59999999999997M317.79,367.2V369.59999999999997M318.53,367.2V369.59999999999997M319.20,367.2V370.4M323.58,367.2V369.59999999999997M326.14,367.2V369.59999999999997M327.96,367.2V369.59999999999997M329.37,367.2V369.59999999999997M330.52,367.2V369.59999999999997M331.50,367.2V369.59999999999997M332.34,367.2V369.59999999999997M333.08,367.2V369.59999999999997M333.75,367.2V370.4M338.13,367.2V369.59999999999997M340.69,367.2V369.59999999999997M342.51,367.2V369.59999999999997M343.92,367.2V369.59999999999997M345.07,367.2V369.59999999999997M346.05,367.2V369.59999999999997M346.89,367.2V369.59999999999997M347.63,367.2V369.59999999999997M348.3,367.2V370.4" stroke="#111" stroke-width="1.0"/>
<text transform="translate(285.4,379.8) scale(0.86,1)" font-size="7.8">10<tspan font-size="4.3" dy="-3.1" dx="0.2">0</tspan></text>
<text transform="translate(300.0,379.8) scale(0.86,1)" font-size="7.8">10<tspan font-size="4.3" dy="-3.1" dx="0.2">1</tspan></text>
<text transform="translate(314.5,379.8) scale(0.86,1)" font-size="7.8">10<tspan font-size="4.3" dy="-3.1" dx="0.2">2</tspan></text>
<text transform="translate(329.1,379.8) scale(0.86,1)" font-size="7.8">10<tspan font-size="4.3" dy="-3.1" dx="0.2">3</tspan></text>
<text transform="translate(343.6,379.8) scale(0.86,1)" font-size="7.8">10<tspan font-size="4.3" dy="-3.1" dx="0.2">4</tspan></text>
<path d="M287.7,386.1H345.8" stroke="#111" stroke-width="1.4"/>
<path d="M344.8,383.40000000000003L351.0,386.1L344.8,388.8Z" fill="#111"/>
<text x="317.5" y="399.3" font-size="9.8" text-anchor="middle">IFN-γ</text>
<path d="M42.8,315V373.6" stroke="#222" stroke-width="1.2"/><path d="M40.5,316L42.8,310.7L45.1,316Z" fill="#111"/>
<text transform="translate(40.4,358.4) rotate(-90)" font-size="10.1">Counts</text>
<path d="M62.8,154.5V265.5H233.5" fill="none" stroke="#444" stroke-width="1"/>
<text x="61" y="159.5" font-size="9.5" text-anchor="end">300</text>
<path d="M61,156.2H62.8" stroke="#444" stroke-width="0.8"/>
<text x="61" y="180.9" font-size="9.5" text-anchor="end">240</text>
<path d="M61,177.6H62.8" stroke="#444" stroke-width="0.8"/>
<text x="61" y="205.7" font-size="9.5" text-anchor="end">180</text>
<path d="M61,202.4H62.8" stroke="#444" stroke-width="0.8"/>
<text x="61" y="227.3" font-size="9.5" text-anchor="end">120</text>
<path d="M61,224.0H62.8" stroke="#444" stroke-width="0.8"/>
<text x="61" y="248.5" font-size="9.5" text-anchor="end">60</text>
<path d="M61,245.2H62.8" stroke="#444" stroke-width="0.8"/>
<text transform="translate(44.3,239.8) rotate(-90)" font-size="8.8">Proliferative Index</text>
<rect x="75.3" y="255.0" width="22.3" height="10.5" fill="#fff" stroke="#111" stroke-width="1.2"/>
<rect x="107.2" y="246.1" width="22.6" height="19.4" fill="#838383" stroke="#111" stroke-width="1.2"/>
<rect x="160.4" y="255.4" width="22.0" height="10.1" fill="#fff" stroke="#111" stroke-width="1.2"/>
<rect x="192.4" y="169.6" width="22.4" height="95.9" fill="#838383" stroke="#111" stroke-width="1.2"/>
<path d="M86.5,252.8V255.0M83.9,252.8H89.1" stroke="#111" stroke-width="1.2"/>
<path d="M118.4,243.0V246.1M115.80000000000001,243.0H121.0" stroke="#111" stroke-width="1.2"/>
<path d="M171.4,253.4V255.4M168.8,253.4H174.0" stroke="#111" stroke-width="1.2"/>
<path d="M203.5,163.6V169.6M200.9,163.6H206.1" stroke="#111" stroke-width="1.2"/>
<text x="82.5" y="153.6" font-size="12.5" text-anchor="start" >15-TRT</text>
<text x="167.4" y="153.9" font-size="12.5" text-anchor="start" >19-LMP</text>
<text x="81.8" y="279.7" font-size="8.3" text-anchor="start" >Pre</text>
<text x="119.1" y="279.7" font-size="8.3" text-anchor="start" >Post</text>
<text x="166.1" y="279.7" font-size="8.3" text-anchor="start" >Pre</text>
<text x="205.8" y="279.7" font-size="8.3" text-anchor="start" >Post</text>
<text x="284.9" y="141.9" font-size="9.7" text-anchor="start" >Targets:</text>
<text x="325.2" y="141.9" font-size="9.7" text-anchor="start" >DC+LAMP hTERT</text>
<text x="443.9" y="141.9" font-size="9.6" text-anchor="start" >DC+GFP</text>
<path d="M318.6,265.3V144.2H519.4V265.3Z" fill="none" stroke="#666" stroke-width="1"/>
<path d="M419.2,144.2V265.3" stroke="#666" stroke-width="1"/>
<path d="M318.6,144.2V265.3H519.4" fill="none" stroke="#555" stroke-width="1"/>
<text x="312.3" y="268.6" font-size="10.3" text-anchor="end">0</text>
<text x="313.5" y="242.1" font-size="10.3" text-anchor="end">10</text>
<path d="M318.6,237.8H321.8" stroke="#444" stroke-width="0.8"/>
<text x="313.5" y="214.6" font-size="10.3" text-anchor="end">20</text>
<path d="M318.6,210.3H321.8" stroke="#444" stroke-width="0.8"/>
<text x="313.5" y="187.1" font-size="10.3" text-anchor="end">30</text>
<path d="M318.6,182.8H321.8" stroke="#444" stroke-width="0.8"/>
<text x="313.5" y="159.6" font-size="10.3" text-anchor="end">40</text>
<path d="M318.6,155.3H321.8" stroke="#444" stroke-width="0.8"/>
<text transform="translate(296.6,232) rotate(-90)" font-size="10.2">Specific Lysis (%)</text>
<text x="323" y="280" font-size="9.2" text-anchor="start" >5:1</text>
<text x="349.3" y="280" font-size="9.2" text-anchor="start" >10:1</text>
<text x="375.3" y="280" font-size="9.2" text-anchor="start" >20:1</text>
<text x="400.7" y="280" font-size="9.2" text-anchor="start" >40:1</text>
<text x="424.4" y="280" font-size="9.2" text-anchor="start" >5:1</text>
<text x="450.2" y="280" font-size="9.2" text-anchor="start" >10:1</text>
<text x="475.6" y="280" font-size="9.2" text-anchor="start" >20:1</text>
<text x="502" y="280" font-size="9.2" text-anchor="start" >40:1</text>
<text x="410.2" y="294.2" font-size="10.5" text-anchor="start" >E:T</text>
<polyline points="332.1,249.2 356.7,248.2 380.0,242.8 406.4,231.0" fill="none" stroke="#111" stroke-width="1"/>
<polyline points="332.1,245.5 356.7,245.6 380.0,230.3 406.4,182.4" fill="none" stroke="#111" stroke-width="1"/>
<rect x="326.9" y="244.0" width="10.4" height="10.4" fill="#fff" stroke="#111" stroke-width="1"/>
<rect x="351.5" y="243.0" width="10.4" height="10.4" fill="#fff" stroke="#111" stroke-width="1"/>
<rect x="374.8" y="237.6" width="10.4" height="10.4" fill="#fff" stroke="#111" stroke-width="1"/>
<rect x="401.2" y="225.8" width="10.4" height="10.4" fill="#fff" stroke="#111" stroke-width="1"/>
<rect x="326.9" y="240.3" width="10.4" height="10.4" fill="#2a2a2a" stroke="#111" stroke-width="1"/>
<rect x="351.5" y="240.4" width="10.4" height="10.4" fill="#2a2a2a" stroke="#111" stroke-width="1"/>
<rect x="374.8" y="225.1" width="10.4" height="10.4" fill="#2a2a2a" stroke="#111" stroke-width="1"/>
<rect x="401.2" y="177.2" width="10.4" height="10.4" fill="#2a2a2a" stroke="#111" stroke-width="1"/>
<polyline points="432.6,262.9 457.3,261.0 480.8,260.1 507.0,256.1" fill="none" stroke="#111" stroke-width="1"/>
<polyline points="432.6,253.8 457.3,252.5 480.8,251.7 507.0,248.7" fill="none" stroke="#111" stroke-width="1"/>
<rect x="427.4" y="257.7" width="10.4" height="10.4" fill="#fff" stroke="#111" stroke-width="1"/>
<rect x="452.1" y="255.8" width="10.4" height="10.4" fill="#fff" stroke="#111" stroke-width="1"/>
<rect x="475.6" y="254.9" width="10.4" height="10.4" fill="#fff" stroke="#111" stroke-width="1"/>
<rect x="501.8" y="250.9" width="10.4" height="10.4" fill="#fff" stroke="#111" stroke-width="1"/>
<rect x="427.4" y="248.6" width="10.4" height="10.4" fill="#2a2a2a" stroke="#111" stroke-width="1"/>
<rect x="452.1" y="247.3" width="10.4" height="10.4" fill="#2a2a2a" stroke="#111" stroke-width="1"/>
<rect x="475.6" y="246.5" width="10.4" height="10.4" fill="#2a2a2a" stroke="#111" stroke-width="1"/>
<rect x="501.8" y="243.5" width="10.4" height="10.4" fill="#2a2a2a" stroke="#111" stroke-width="1"/>
</svg></body></html>
